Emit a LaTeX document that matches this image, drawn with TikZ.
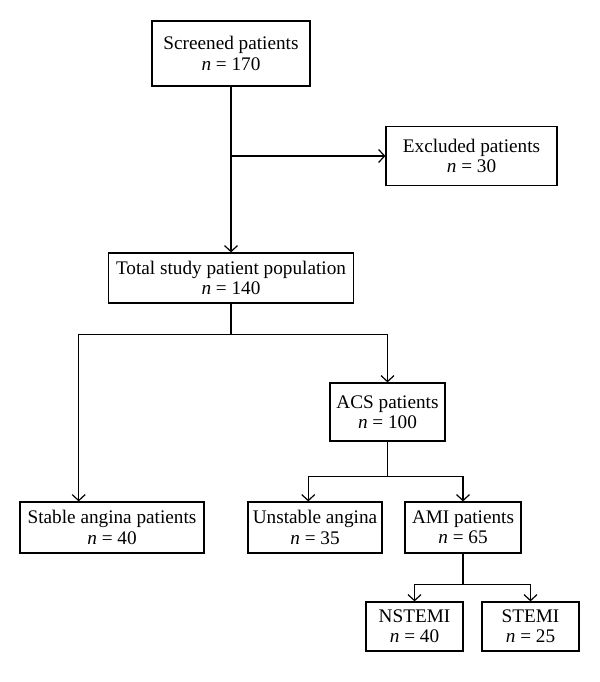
\documentclass[tikz,border=0pt]{standalone}
\usepackage{fontspec}
\setmainfont{Liberation Serif}
\usetikzlibrary{arrows.meta}
\usetikzlibrary{calc}
\usetikzlibrary{positioning}

\newcommand{\nval}[1]{\textit{n} = #1}

\begin{document}
\begin{tikzpicture}[
        x=1bp, y=-1bp,
        box/.style={draw, line width=1.2pt, rectangle, align=center, inner sep=0pt,
            font=\fontsize{19.3}{20.5}\selectfont},
        link/.style={line width=1.2pt},
        arr/.style={line width=1.2pt, -{Straight Barb[length=6bp, width=13bp]}}
        ]
        \useasboundingbox (0,0) rectangle (600,682);

        % top part
        \node[box, minimum width=158bp, minimum height=65bp] (screened) at (231,53.5)
            {Screened patients\\ \nval{170}};
        \node[box, minimum width=171bp, minimum height=59bp] (excluded) at (471.5,156)
            {Excluded patients\\ \nval{30}};
        \node[box, minimum width=245bp, minimum height=50bp] (total) at (231,278)
            {Total study patient population\\ \nval{140}};

        % second level
        \node[box, minimum width=115bp, minimum height=58bp] (acs) at (387.5,412)
            {ACS patients\\ \nval{100}};
        \node[box, minimum width=184bp, minimum height=51bp] (stable) at (112,527.5)
            {Stable angina patients\\ \nval{40}};
        \node[box, minimum width=134bp, minimum height=51bp] (unstable) at (315,527.5)
            {Unstable angina\\ \nval{35}};
        \node[box, minimum width=116bp, minimum height=51bp] (ami) at (463,527.5)
            {AMI patients\\ \nval{65}};

        % bottom
        \node[box, minimum width=97bp, minimum height=49bp] (nstemi) at (414.5,626.5)
            {NSTEMI\\ \nval{40}};
        \node[box, minimum width=97bp, minimum height=49bp] (stemi) at (530.5,626.5)
            {STEMI\\ \nval{25}};

        % connectors
        \draw[arr] (screened.south) -- (total.north);
        \draw[arr] (screened.south |- excluded.west) -- (excluded.west);

        \coordinate (split2) at ($(total.south)+(0,31)$);
        \draw[link] (total.south) -- (split2);
        \draw[arr] (split2) -| ($(stable.north west)!.32!(stable.north east)$);
        \draw[arr] (split2) -| (acs.north);

        \coordinate (split3) at ($(acs.south)+(0,35)$);
        \draw[link] (acs.south) -- (split3);
        \draw[arr] (split3) -| ($(unstable.north west)!.45!(unstable.north east)$);
        \draw[arr] (split3) -| (ami.north);

        \coordinate (split4) at ($(ami.south)+(0,31)$);
        \draw[link] (ami.south) -- (split4);
        \draw[arr] (split4) -| (nstemi.north);
        \draw[arr] (split4) -| (stemi.north);

    \end{tikzpicture}
\end{document}
